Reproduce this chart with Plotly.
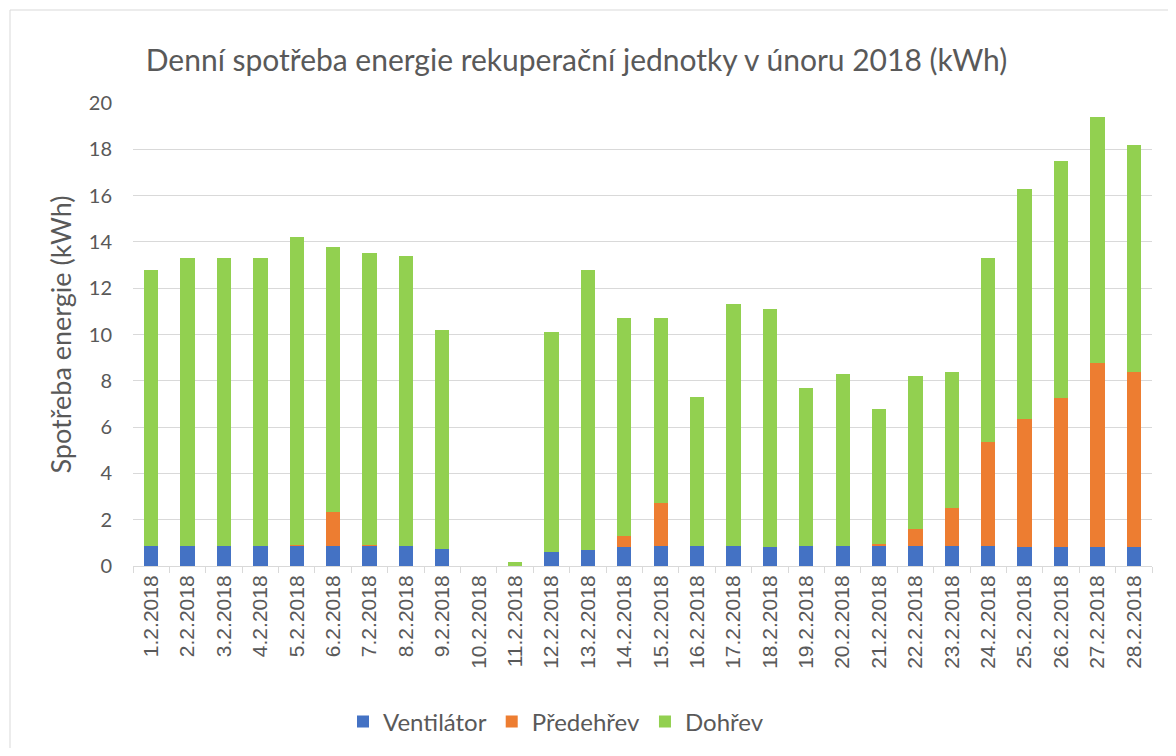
import plotly.graph_objects as go

days = [f"{d}.2.2018" for d in range(1, 29)]
ventilator = [0.87, 0.87, 0.87, 0.87, 0.87, 0.87, 0.87, 0.87, 0.72, 0.0,
              0.0, 0.62, 0.69, 0.82, 0.87, 0.87, 0.87, 0.82, 0.87, 0.87,
              0.87, 0.87, 0.87, 0.87, 0.82, 0.82, 0.84, 0.84]
predehrev = [0.0, 0.0, 0.0, 0.0, 0.03, 1.46, 0.03, 0.0, 0.0, 0.0,
             0.0, 0.0, 0.0, 0.49, 1.85, 0.0, 0.0, 0.0, 0.0, 0.0,
             0.08, 0.73, 1.65, 4.47, 5.52, 6.45, 7.93, 7.54]
totals = [12.8, 13.3, 13.3, 13.3, 14.2, 13.8, 13.5, 13.4, 10.2, 0.0,
          0.19, 10.1, 12.8, 10.7, 10.7, 7.3, 11.3, 11.1, 7.7, 8.3,
          6.8, 8.2, 8.4, 13.3, 16.3, 17.5, 19.4, 18.2]
dohrev = [round(max(t - v - p, 0.0), 2) for t, v, p in zip(totals, ventilator, predehrev)]

y_ticks = [0, 2, 4, 6, 8, 10, 12, 14, 16, 18, 20]

# page body has an 8px margin; figure coordinates are offset accordingly
OFF = 8
W, H = 1160, 740
ml, mt = 133 - OFF, 103 - OFF
pw, ph = 1019, 463
mr = W - ml - pw
mb = H - mt - ph

fnt = "Lato, 'Open Sans', sans-serif"
txt = "#595959"


def px_x(p):  # screenshot px -> paper x
    return (p - OFF - ml) / pw


def px_y(p):  # screenshot px -> paper y
    return (H - mb - (p - OFF)) / ph


fig = go.Figure()
fig.add_bar(x=days, y=ventilator, name="Ventilátor", marker=dict(color="#4472C4", line=dict(width=0)))
fig.add_bar(x=days, y=predehrev, name="Předehřev", marker=dict(color="#ED7D31", line=dict(width=0)))
fig.add_bar(x=days, y=dohrev, name="Dohřev", marker=dict(color="#92D050", line=dict(width=0)))

fig.update_layout(
    width=W, height=H,
    margin=dict(l=ml, r=mr, t=mt, b=mb, autoexpand=False),
    barmode="stack",
    bargap=0.607,
    plot_bgcolor="white",
    paper_bgcolor="white",
    font=dict(family=fnt, color=txt),
    title=dict(text="Denní spotřeba energie rekuperační jednotky v únoru 2018 (kWh)",
               x=(576.5 - OFF) / W, xanchor="center",
               y=1 - (60 - OFF) / H, yanchor="middle",
               font=dict(size=30, color=txt, family=fnt)),
    legend=dict(orientation="h", x=px_x(556), xanchor="center", y=px_y(722), yanchor="middle",
                font=dict(size=24, color=txt, family=fnt), traceorder="normal",
                itemwidth=30),
    xaxis=dict(type="category", tickangle=-90,
               tickfont=dict(size=21, color=txt, family="'Liberation Sans', Arial, sans-serif"),
               ticks="outside", tickson="boundaries", ticklen=6, tickcolor="#d9d9d9",
               showline=True, linecolor="#d9d9d9", linewidth=1, showgrid=False),
    yaxis=dict(range=[0, 20], tickvals=y_ticks, tickfont=dict(size=20, color=txt),
               gridcolor="#d9d9d9", gridwidth=1, zeroline=False, showline=False,
               ticks="", ticklabelstandoff=20,
               title=dict(text="Spotřeba energie (kWh)", font=dict(size=27, color=txt), standoff=9)),
    shapes=[dict(type="rect", xref="paper", yref="paper",
                 x0=px_x(10), x1=px_x(1190), y0=px_y(770), y1=px_y(10),
                 line=dict(color="#d9d9d9", width=1), layer="below")],
)

fig.write_html("out.html")
